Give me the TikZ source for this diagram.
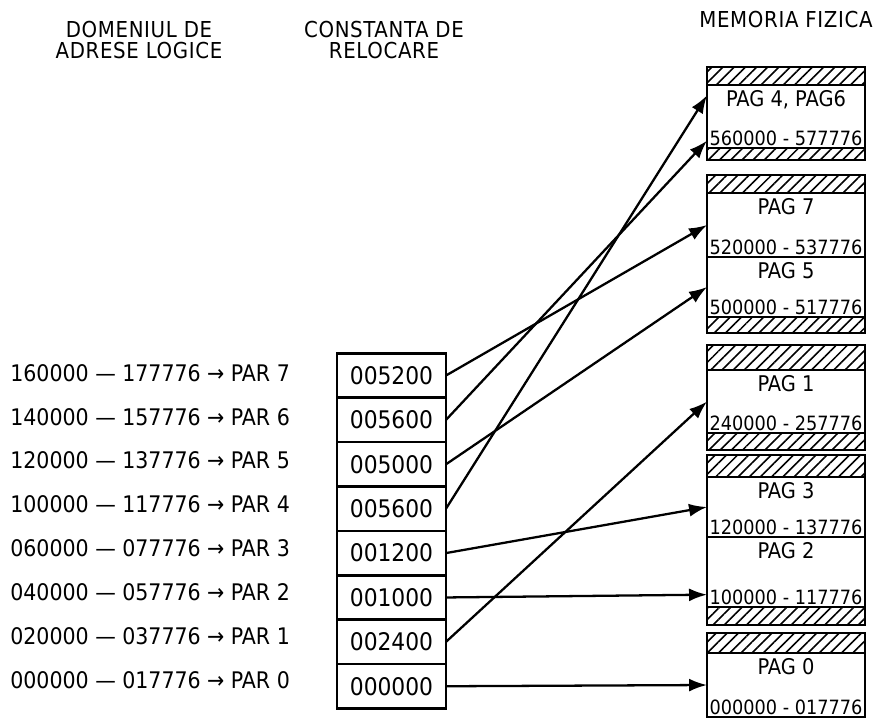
\documentclass[tikz,border=0pt]{standalone}
\usepackage{fontspec}
\setmainfont{DejaVu Sans Condensed}
\newfontfamily\headfont{DejaVu Sans Condensed}[LetterSpace=3]
\usetikzlibrary{arrows.meta,positioning,patterns.meta}
\tikzset{
  header/.style={align=center, inner sep=0pt, font=\headfont\fontsize{12.5}{11.5}\selectfont},
  addr/.style={anchor=west, inner sep=0pt, font=\fontsize{13}{14}\selectfont},
  relbox/.style={draw, line width=1.5pt, outer sep=0pt, inner sep=0pt,
    minimum width=2.18cm, minimum height=0.888cm, font=\fontsize{13.8}{15}\selectfont},
  pagebox/.style={draw, line width=1.6pt, outer sep=0pt, inner sep=0pt,
    minimum width=3.16cm},
  pagename/.style={inner sep=1pt, font=\fontsize{12.3}{13}\selectfont},
  pagerange/.style={inner sep=1pt, font=\fontsize{11.2}{12}\selectfont},
  hatch/.style={draw, line width=1.6pt,
    pattern={Lines[angle=45,distance=4.5pt,line width=0.9pt]}},
  map/.style={-{Latex[length=3.6mm,width=2.6mm]}, line width=1.3pt}
}

\begin{document}
\begin{tikzpicture}[x=0.02cm, y=-0.02cm]
  \useasboundingbox (0,0) rectangle (884,723);

  % titles
  \node[header] (hlog) at (139,40) {DOMENIUL DE\\ADRESE LOGICE};
  \node[header] (hrel) at (384,40) {CONSTANTA DE\\RELOCARE};
  \node[header] (hmem) at (786,20) {MEMORIA FIZICA};

  % logical address domain
  \node[addr] (par7) at (10,373) {160000 — 177776 → PAR 7};
  \node[addr] (par6) at (10,417) {140000 — 157776 → PAR 6};
  \node[addr] (par5) at (10,460) {120000 — 137776 → PAR 5};
  \node[addr] (par4) at (10,504) {100000 — 117776 → PAR 4};
  \node[addr] (par3) at (10,548) {060000 — 077776 → PAR 3};
  \node[addr] (par2) at (10,592) {040000 — 057776 → PAR 2};
  \node[addr] (par1) at (10,636) {020000 — 037776 → PAR 1};
  \node[addr] (par0) at (10,680) {000000 — 017776 → PAR 0};

  % relocation constants
  \node[relbox] (r7) at (391.5,375.5) {005200};
  \node[relbox, below=0pt of r7] (r6) {005600};
  \node[relbox, below=0pt of r6] (r5) {005000};
  \node[relbox, below=0pt of r5] (r4) {005600};
  \node[relbox, below=0pt of r4] (r3) {001200};
  \node[relbox, below=0pt of r3] (r2) {001000};
  \node[relbox, below=0pt of r2] (r1) {002400};
  \node[relbox, below=0pt of r1] (r0) {000000};

  % physical memory
  \node[pagebox, minimum height=1.26cm] (pag46) at (786,116.5) {};
  \node[pagebox, minimum height=1.28cm] (pag7) at (786,225) {};
  \node[pagebox, minimum height=1.2cm] (pag5) at (786,287) {};
  \node[pagebox, minimum height=1.26cm] (pag1) at (786,401.5) {};
  \node[pagebox, minimum height=1.2cm] (pag3) at (786,507) {};
  \node[pagebox, minimum height=1.4cm] (pag2) at (786,572) {};
  \node[pagebox, minimum height=1.28cm] (pag0) at (786,685) {};

  \node[pagename, below=2pt of pag46.north] (n46) {PAG 4, PAG6};
  \node[pagename, below=2pt of pag7.north] (n7) {PAG 7};
  \node[pagename, below=2pt of pag5.north] (n5) {PAG 5};
  \node[pagename, below=2pt of pag1.north] (n1) {PAG 1};
  \node[pagename, below=2pt of pag3.north] (n3) {PAG 3};
  \node[pagename, below=2pt of pag2.north] (n2) {PAG 2};
  \node[pagename, below=2pt of pag0.north] (n0) {PAG 0};

  \node[pagerange, above=0pt of pag46.south] (a46) {560000 - 577776};
  \node[pagerange, above=0pt of pag7.south] (a7) {520000 - 537776};
  \node[pagerange, above=0pt of pag5.south] (a5) {500000 - 517776};
  \node[pagerange, above=0pt of pag1.south] (a1) {240000 - 257776};
  \node[pagerange, above=0pt of pag3.south] (a3) {120000 - 137776};
  \node[pagerange, above=0pt of pag2.south] (a2) {100000 - 117776};
  \node[pagerange, above=0pt of pag0.south] (a0) {000000 - 017776};

  \foreach \ya/\yb in {67/85, 148/160, 175/193, 317/333, 345/370,
                       433/450, 455/477, 607/625, 633/653}
    \draw[hatch] (707,\ya) rectangle (865,\yb);

  % mapping
  \draw[map] (r7.east) -- (pag7.west);
  \draw[map] (r6.east) -- (pag46.197);
  \draw[map] (r5.east) -- (pag5.west);
  \draw[map] (r4.east) -- (pag46.165);
  \draw[map] (r3.east) -- (pag3.west);
  \draw[map] (r2.east) -- (pag2.196);
  \draw[map] (r1.east) -- (pag1.west);
  \draw[map] (r0.east) -- (pag0.west);
\end{tikzpicture}
\end{document}
